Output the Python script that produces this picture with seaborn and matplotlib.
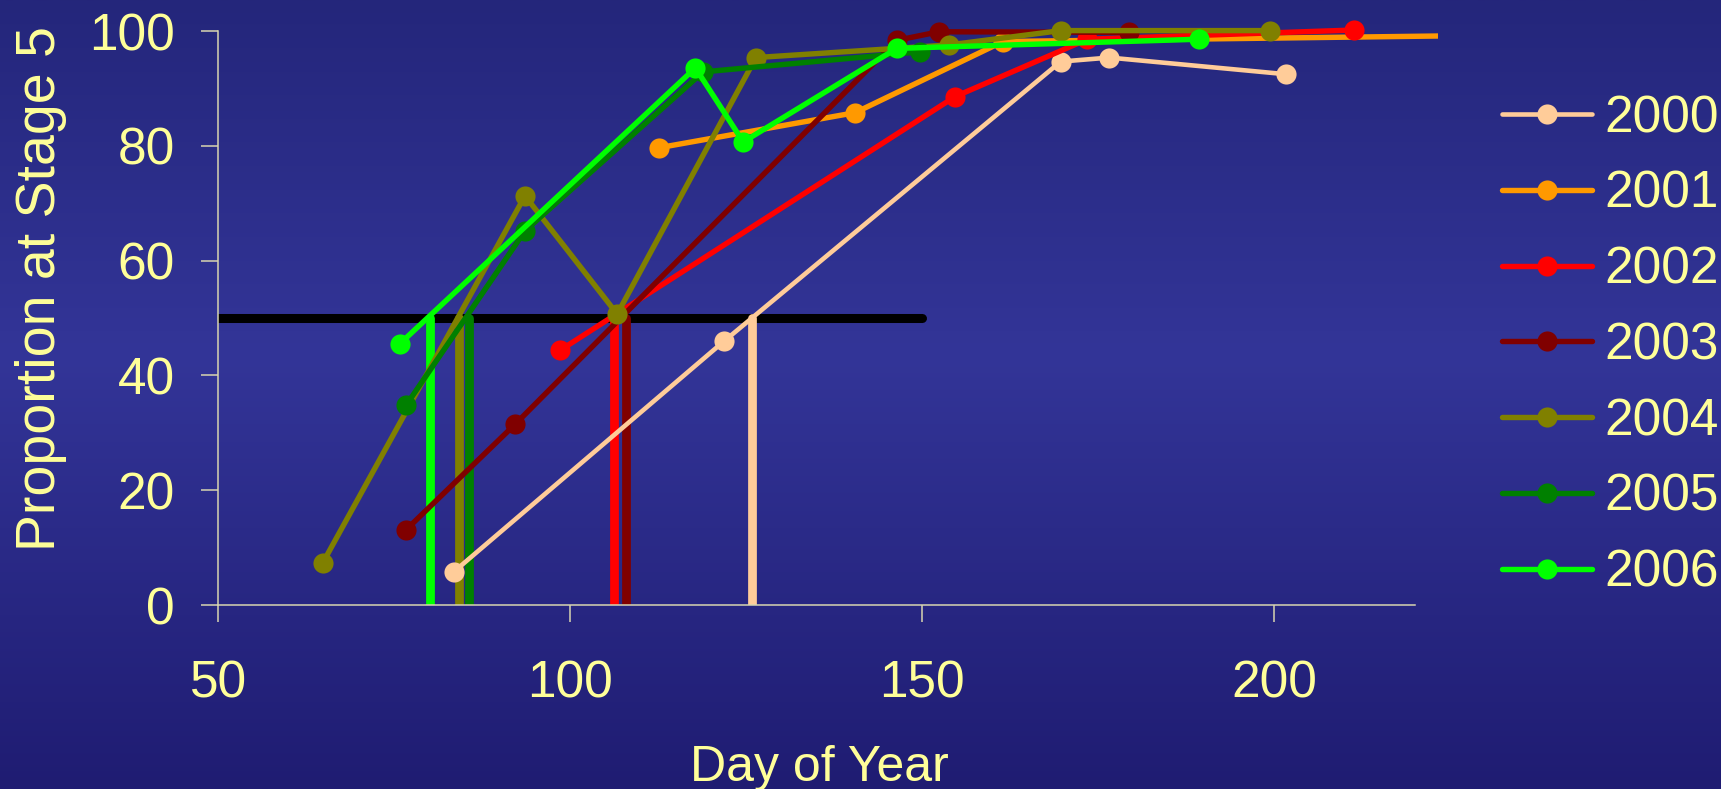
import numpy as np
import matplotlib
matplotlib.use("Agg")
import matplotlib.pyplot as plt
import seaborn as sns

# day of year / percent at stage 5
years = ["2000", "2001", "2002", "2003", "2004", "2005", "2006"]
days_2000 = [83.5, 121.9, 169.7, 176.6, 201.7]
prop_2000 = [5.8, 46.0, 94.7, 95.4, 92.5]
days_2001 = [112.7, 140.5, 161.5, 226.0]
prop_2001 = [79.7, 85.8, 98.2, 99.2]
days_2002 = [98.6, 154.7, 173.5, 211.3]
prop_2002 = [44.4, 88.6, 98.6, 100.2]
days_2003 = [76.7, 92.2, 146.4, 152.4, 179.4]
prop_2003 = [13.1, 31.5, 98.4, 99.9, 99.8]
days_2004 = [64.9, 93.6, 106.7, 126.4, 153.8, 169.7, 199.4]
prop_2004 = [7.4, 71.3, 50.7, 95.4, 97.6, 100.1, 100.1]
days_2005 = [76.7, 93.6, 118.9, 149.7]
prop_2005 = [34.8, 65.2, 92.9, 96.4]
days_2006 = [75.8, 117.8, 124.6, 146.4, 189.4]
prop_2006 = [45.5, 93.6, 80.7, 97.0, 98.6]

# day each year crossed 50 % (the vertical drops)
cross_years = ["2000", "2002", "2003", "2004", "2005", "2006"]
cross_days = [125.8, 106.2, 108.0, 84.2, 85.6, 80.1]
threshold = 50
threshold_span = [50, 150]

x_ticks = [50, 100, 150, 200]
y_ticks = [0, 20, 40, 60, 80, 100]

series = {
    "2000": (days_2000, prop_2000),
    "2001": (days_2001, prop_2001),
    "2002": (days_2002, prop_2002),
    "2003": (days_2003, prop_2003),
    "2004": (days_2004, prop_2004),
    "2005": (days_2005, prop_2005),
    "2006": (days_2006, prop_2006),
}
palette = {
    "2000": "#FFCC99", "2001": "#FF9900", "2002": "#FF0000", "2003": "#800000",
    "2004": "#808000", "2005": "#008000", "2006": "#00FF00",
}

sns.set_style("ticks")
plt.rcParams["font.family"] = ["Liberation Sans", "DejaVu Sans"]
txt = "#FFFF99"
axis_col = "#D8D5B0"

fig = plt.figure(figsize=(17.21, 7.89), dpi=100)

# slide-style vertical gradient background
bg = fig.add_axes([0, 0, 1, 1], zorder=-5)
stops = np.array([0.0, 0.45, 1.0])
cols = np.array([[0x24, 0x26, 0x7B], [0x33, 0x35, 0x98], [0x1F, 0x1C, 0x72]]) / 255
t = np.linspace(0, 1, 400)
grad = np.stack([np.interp(t, stops, cols[:, k]) for k in range(3)], axis=1)[:, None, :]
bg.imshow(grad, aspect="auto", extent=[0, 1, 0, 1])
bg.axis("off")

ax = fig.add_axes([0.1267, 0.2332, 0.7089, 0.7491])
ax.set_facecolor("none")

ax.hlines(threshold, threshold_span[0], threshold_span[1], color="black",
          linewidth=6.5, capstyle="round", zorder=1)

for yr in years:
    d, p = series[yr]
    sns.lineplot(x=d, y=p, color=palette[yr], marker="o", markersize=14.5,
                 markeredgewidth=0, linewidth=3.3 if yr == "2000" else 3.9,
                 label=yr, sort=False, estimator=None, ax=ax, zorder=3)

for yr, cd in zip(cross_years, cross_days):
    vl = ax.vlines(cd, 0, threshold, color=palette[yr], linewidth=6.3, zorder=2)
    vl.set_capstyle("round")

ax.set_xlim(50, 223.3)
ax.set_ylim(0, 103)
ax.set_xticks(x_ticks)
ax.set_yticks(y_ticks)
sns.despine(ax=ax)
ax.spines["bottom"].set_bounds(50, 220)
ax.spines["left"].set_bounds(0, 100)
for s in ["bottom", "left"]:
    ax.spines[s].set_color(axis_col)
    ax.spines[s].set_linewidth(1.1)

ax.tick_params(axis="both", direction="out", length=12, width=1.1,
               color=axis_col, labelcolor=txt, labelsize=37)
ax.tick_params(axis="x", pad=27)
ax.tick_params(axis="y", pad=19)

ax.set_xlabel("Day of Year", color=txt, fontsize=36)
ax.xaxis.set_label_coords(0.4926, -0.276)
ax.xaxis.label.set_va("center")
ax.set_ylabel("Proportion at Stage 5", color=txt, fontsize=40)
ax.yaxis.set_label_coords(-0.145, 0.536)
ax.yaxis.label.set_va("center")

handles, labels = ax.get_legend_handles_labels()
leg = ax.legend(handles, labels, loc="upper left",
                bbox_to_anchor=(0.8728, 0.8806), bbox_transform=fig.transFigure,
                frameon=False, fontsize=37, labelcolor=txt, borderpad=0,
                borderaxespad=0, handlelength=1.75, handletextpad=0.25,
                labelspacing=0.52)

fig.savefig("out.png", dpi=100)
